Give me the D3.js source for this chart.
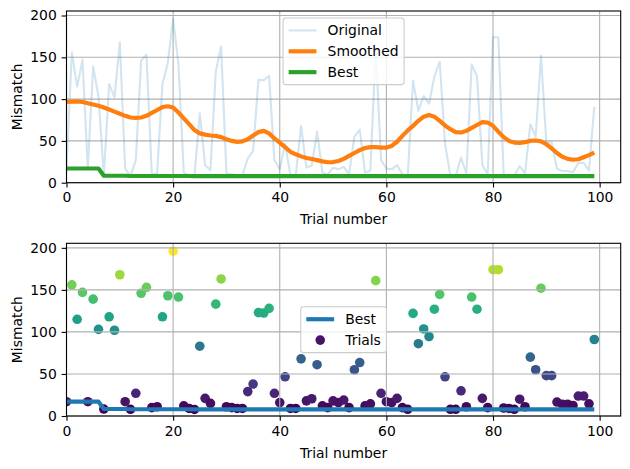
<!DOCTYPE html>
<html>
<head>
<meta charset="utf-8">
<script src="https://cdn.jsdelivr.net/npm/d3@7"></script>
<style>
  html, body { margin: 0; padding: 0; background: #fff; }
  svg { display: block; font-family: "DejaVu Sans", sans-serif; }
</style>
</head>
<body>
<svg id="chart" width="630" height="469"></svg>
<script>
// ---------------- data ----------------
const trials = d3.range(100);
const xTicks = [0, 20, 40, 60, 80, 100];
const yTicks = [0, 50, 100, 150, 200];

const original = [
  17, 156, 115, 147, 17, 139, 103, 8.3, 118, 102,
  168, 17, 8, 27, 146, 153, 10, 11, 118, 143,
  196, 141.5, 12, 9, 7.8, 83, 21, 15, 133, 163,
  11, 10, 9, 9, 29, 38, 123, 122.5, 128, 27,
  16, 46.6, 9, 9, 68, 18, 20.5, 61, 12, 10,
  18, 16, 19, 10, 55, 63.6, 12, 14.5, 161, 27,
  17, 16, 21, 10, 8, 122, 86, 103.5, 94.5, 127,
  144.6, 46.6, 8, 8, 30, 11, 141.5, 127, 21, 10,
  174, 174, 9.5, 9, 8, 20, 11, 70, 55, 152,
  48, 48, 16.6, 14, 14, 12.5, 23.7, 23.7, 14.5, 91
];

const smoothed = [
  96.5, 97, 97.3, 96.5, 95, 93.5, 92, 90, 87.5, 85,
  82.5, 80, 78, 77.5, 78, 80, 83.5, 87, 90.5, 91.5,
  90, 84, 77, 70, 63, 59, 57.5, 56.5, 56, 54.5,
  52, 50, 48.8, 49.5, 52, 56.5, 60.5, 62, 59, 53,
  48, 42.5, 37, 34, 31.5, 29.5, 28.3, 27, 25.5, 24.5,
  24.7, 26, 28.5, 32, 35.5, 39, 41.5, 42.5, 42.5, 42,
  42, 44, 49, 56, 62.5, 68, 74, 79, 81, 79,
  74, 68.5, 64, 60.5, 60, 62, 65.5, 69, 72.5, 72,
  68, 61, 54.5, 50, 48, 47.5, 48.5, 50, 50.5, 49.5,
  46, 41, 35.5, 31, 28.5, 27.5, 28, 30.5, 33, 36
];

// best value so far (running minimum of the trials)
const best = [];
original.forEach((v, i) => best.push(i === 0 ? v : Math.min(best[i - 1], v)));

// ---------------- layout ----------------
const svg = d3.select("#chart");
const FS = 13.9;
const R = 4.8;
const left = 66.5, right = 620.7;
const panels = [
  { top: 11, bottom: 182.7 },
  { top: 243.3, bottom: 416 }
];

const x = d3.scaleLinear().domain([0, 103.95]).range([left, right]);
const yMax = 205.4;

function setupPanel(p, idx) {
  const y = d3.scaleLinear().domain([0, yMax]).range([p.bottom, p.top]);
  const g = svg.append("g");
  const clipId = "clip" + idx;
  svg.append("clipPath").attr("id", clipId)
    .append("rect").attr("x", left).attr("y", p.top)
    .attr("width", right - left).attr("height", p.bottom - p.top);

  const layers = {
    below: g.append("g").attr("clip-path", `url(#${clipId})`),
    grid: g.append("g"),
    marks: g.append("g").attr("clip-path", `url(#${clipId})`),
    axes: g.append("g"),
    legend: g.append("g")
  };

  // grid
  layers.grid.selectAll(".gx").data(xTicks).join("line")
    .attr("x1", d => x(d)).attr("x2", d => x(d))
    .attr("y1", p.top).attr("y2", p.bottom)
    .attr("stroke", "#b0b0b0").attr("stroke-width", 1.1);
  layers.grid.selectAll(".gy").data(yTicks).join("line")
    .attr("x1", left).attr("x2", right)
    .attr("y1", d => y(d)).attr("y2", d => y(d))
    .attr("stroke", "#b0b0b0").attr("stroke-width", 1.1);

  // axes
  const ax = layers.axes.append("g").attr("transform", `translate(0,${p.bottom})`)
    .call(d3.axisBottom(x).tickValues(xTicks).tickFormat(d3.format("d"))
      .tickSize(4.86).tickPadding(4.86));
  const ay = layers.axes.append("g").attr("transform", `translate(${left},0)`)
    .call(d3.axisLeft(y).tickValues(yTicks).tickFormat(d3.format("d"))
      .tickSize(4.86).tickPadding(4.86));
  [ax, ay].forEach(a => {
    a.select(".domain").remove();
    a.selectAll("line").attr("stroke", "#000").attr("stroke-width", 1.1);
    a.selectAll("text").attr("font-size", FS).attr("fill", "#000")
      .attr("font-family", "DejaVu Sans");
  });
  // spines
  layers.axes.append("rect")
    .attr("x", left).attr("y", p.top)
    .attr("width", right - left).attr("height", p.bottom - p.top)
    .attr("fill", "none").attr("stroke", "#000").attr("stroke-width", 1.1);

  // labels
  layers.axes.append("text")
    .attr("x", (left + right) / 2).attr("y", p.bottom + 41.5)
    .attr("text-anchor", "middle").attr("font-size", FS).attr("fill", "#000")
    .text("Trial number");
  layers.axes.append("text")
    .attr("transform", `translate(22,${(p.top + p.bottom) / 2}) rotate(-90)`)
    .attr("text-anchor", "middle").attr("font-size", FS).attr("fill", "#000")
    .text("Mismatch");

  return { y, layers };
}

function drawLegend(layer, items, cx, cy, top) {
  const pad = 5.56, hl = 27.8, htp = 11.12, rowH = 13.9, sp = 6.95;
  const n = items.length;
  const h = 2 * pad + n * rowH + (n - 1) * sp;
  const g = layer.append("g");
  const box = g.append("rect");
  const texts = items.map((it, i) => g.append("text")
    .attr("font-size", FS).attr("fill", "#000").text(it.label));
  let maxW = 0;
  texts.forEach(t => { maxW = Math.max(maxW, t.node().getComputedTextLength()); });
  const w = 2 * pad + hl + htp + maxW;
  const x0 = cx - w / 2;
  const y0 = top !== undefined ? top : cy - h / 2;
  box.attr("x", x0).attr("y", y0).attr("width", w).attr("height", h)
    .attr("rx", 2.8).attr("fill", "#fff").attr("fill-opacity", 0.8)
    .attr("stroke", "#cccccc").attr("stroke-width", 1.1);
  items.forEach((it, i) => {
    const rc = y0 + pad + rowH / 2 + i * (rowH + sp);
    texts[i].attr("x", x0 + pad + hl + htp).attr("y", rc + 5);
    if (it.type === "line") {
      g.append("line").attr("x1", x0 + pad).attr("x2", x0 + pad + hl)
        .attr("y1", rc).attr("y2", rc)
        .attr("stroke", it.color).attr("stroke-width", it.width)
        .attr("stroke-opacity", it.opacity || 1);
    } else {
      g.append("circle").attr("cx", x0 + pad + hl / 2).attr("cy", rc)
        .attr("r", R).attr("fill", it.color);
    }
  });
  box.lower();
}

// ---------------- top panel ----------------
{
  const { y, layers } = setupPanel(panels[0], 0);
  const line = d3.line().x((d, i) => x(trials[i])).y(d => y(d));
  layers.marks.append("path").datum(original).attr("d", line)
    .attr("fill", "none").attr("stroke", "#1f77b4").attr("stroke-opacity", 0.2)
    .attr("stroke-width", 2.08).attr("stroke-linejoin", "round");
  layers.marks.append("path").datum(smoothed).attr("d", line)
    .attr("fill", "none").attr("stroke", "#ff7f0e")
    .attr("stroke-width", 4.17).attr("stroke-linejoin", "round").attr("stroke-linecap", "butt");
  layers.marks.append("path").datum(best).attr("d", line)
    .attr("fill", "none").attr("stroke", "#2ca02c")
    .attr("stroke-width", 4.17).attr("stroke-linejoin", "round");
  drawLegend(layers.legend, [
    { label: "Original", type: "line", color: "#1f77b4", width: 2.08, opacity: 0.2 },
    { label: "Smoothed", type: "line", color: "#ff7f0e", width: 4.17 },
    { label: "Best", type: "line", color: "#2ca02c", width: 4.17 }
  ], (left + right) / 2, 0, panels[0].top + 6.95);
}

// ---------------- bottom panel ----------------
{
  const { y, layers } = setupPanel(panels[1], 1);
  const color = d3.scaleSequential(d3.interpolateViridis)
    .domain([d3.min(original), d3.max(original)]);
  layers.below.selectAll("circle").data(original).join("circle")
    .attr("cx", (d, i) => x(trials[i])).attr("cy", d => y(d))
    .attr("r", R).attr("fill", d => color(d));
  const line = d3.line().x((d, i) => x(trials[i])).y(d => y(d));
  layers.marks.append("path").datum(best).attr("d", line)
    .attr("fill", "none").attr("stroke", "#1f77b4")
    .attr("stroke-width", 4.17).attr("stroke-linejoin", "round");
  drawLegend(layers.legend, [
    { label: "Best", type: "line", color: "#1f77b4", width: 4.17 },
    { label: "Trials", type: "dot", color: color(original[0]) }
  ], (left + right) / 2, (panels[1].top + panels[1].bottom) / 2);
}
</script>
</body>
</html>
